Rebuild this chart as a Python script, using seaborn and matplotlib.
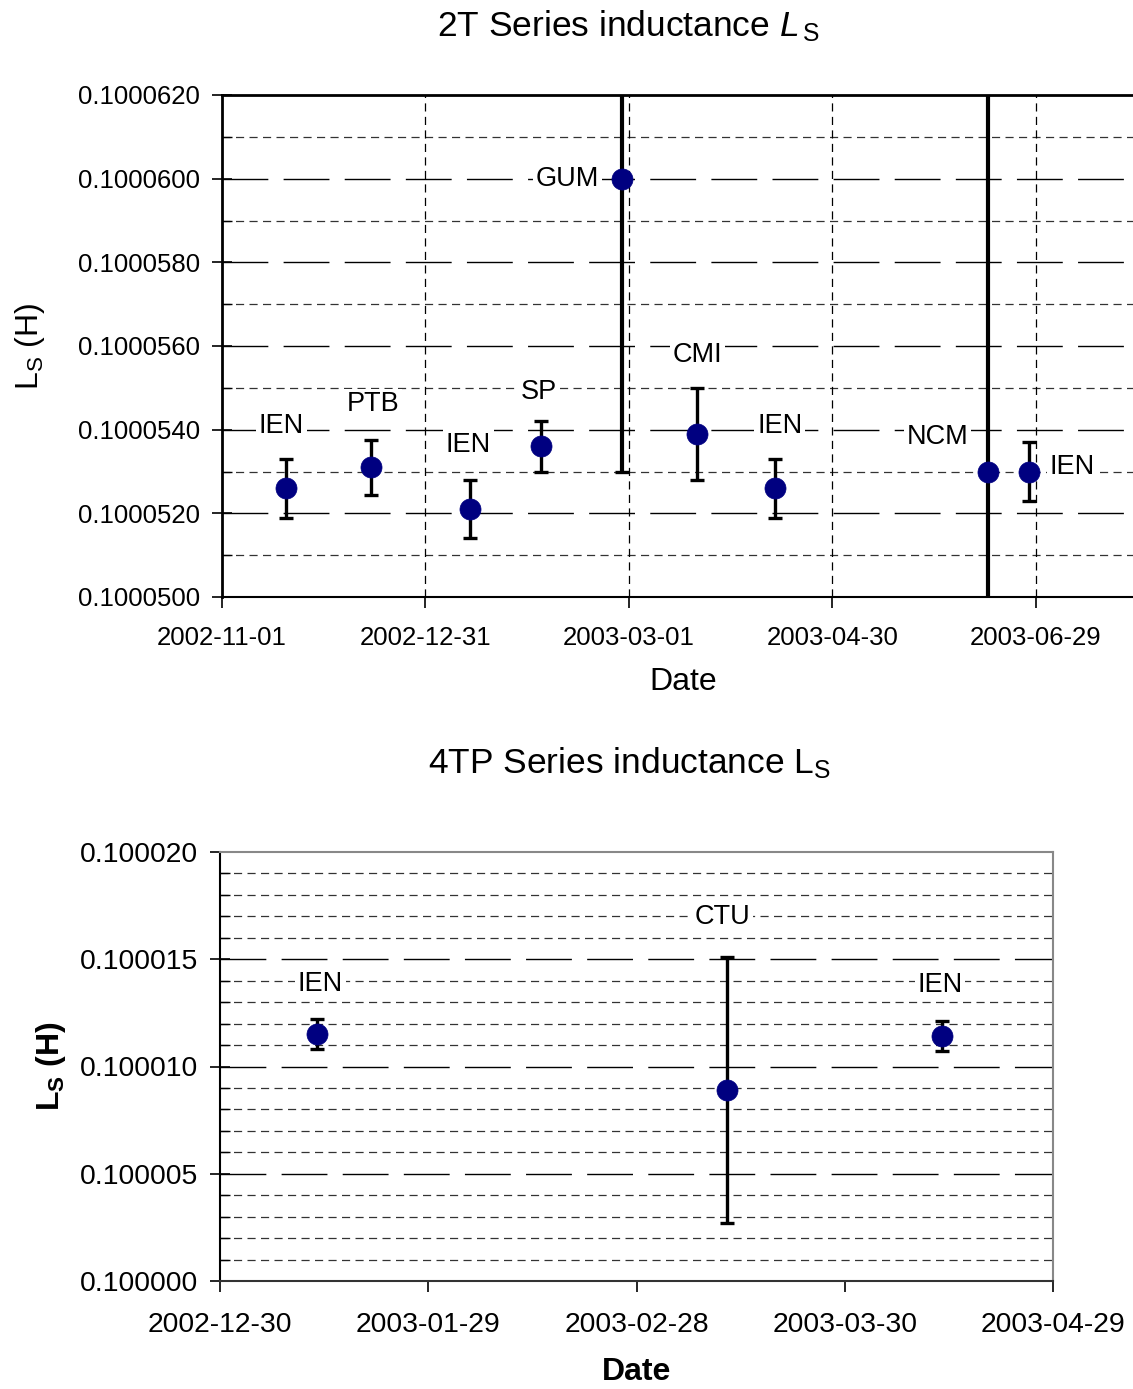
import matplotlib
matplotlib.use("Agg")
import matplotlib.pyplot as plt
import matplotlib.dates as mdates
from matplotlib.ticker import MultipleLocator, FixedLocator
import seaborn as sns
import pandas as pd
import numpy as np

# ---------------- data ----------------
top_labels = ["IEN", "PTB", "IEN", "SP", "GUM", "CMI", "IEN", "NCM", "IEN"]
top_dates = ["2002-11-20", "2002-12-15", "2003-01-13", "2003-02-03", "2003-02-27",
             "2003-03-21", "2003-04-13", "2003-06-15", "2003-06-27"]
top_values = [0.1000526, 0.1000531, 0.1000521, 0.1000536, 0.1000600,
              0.1000539, 0.1000526, 0.1000530, 0.1000530]
top_errors = [0.0000007, 0.00000065, 0.0000007, 0.0000006, 0.0000070,
              0.0000011, 0.0000007, 0.0000200, 0.0000007]
top_xticks = ["2002-11-01", "2002-12-31", "2003-03-01", "2003-04-30", "2003-06-29"]
top_yticks = [0.1000500, 0.1000520, 0.1000540, 0.1000560, 0.1000580, 0.1000600, 0.1000620]

bot_labels = ["IEN", "CTU", "IEN"]
bot_dates = ["2003-01-13", "2003-03-13", "2003-04-13"]
bot_values = [0.1000115, 0.1000089, 0.1000114]
bot_errors = [0.0000007, 0.0000062, 0.0000007]
bot_xticks = ["2002-12-30", "2003-01-29", "2003-02-28", "2003-03-30", "2003-04-29"]
bot_yticks = [0.100000, 0.100005, 0.100010, 0.100015, 0.100020]

# label placement (pixel offsets from the point) -- style only
top_offsets = [(-5, 62), (2, 63), (-1, 64), (-2, 54), (-55, 0), (1, 79), (5, 62), (-51, 35), (43, 4)]
bot_offsets = [(3, 50), (-4, 173), (-2, 51)]

# ---------------- style ----------------
sns.set_style("white")
plt.rcParams["font.family"] = ["Liberation Sans", "DejaVu Sans"]
plt.rcParams["mathtext.fontset"] = "custom"
plt.rcParams["mathtext.rm"] = "Liberation Sans"
plt.rcParams["mathtext.it"] = "Liberation Sans:italic"
plt.rcParams["mathtext.bf"] = "Liberation Sans:bold"
plt.rcParams["text.color"] = "black"
plt.rcParams["axes.labelcolor"] = "black"
plt.rcParams["xtick.color"] = "black"
plt.rcParams["ytick.color"] = "black"

FS = 18.5
NAVY = "#000080"

fig = plt.figure(figsize=(11.33, 13.89), dpi=100)
ax1 = fig.add_axes([222 / 1133, 1 - 597 / 1389, 1 - 222 / 1133 + 0.01, (597 - 95) / 1389])
ax2 = fig.add_axes([220 / 1133, 1 - 1281 / 1389, (1053 - 220) / 1133, (1281 - 852) / 1389])

top_df = pd.DataFrame({"date": pd.to_datetime(top_dates), "value": top_values,
                       "err": top_errors, "label": top_labels})
bot_df = pd.DataFrame({"date": pd.to_datetime(bot_dates), "value": bot_values,
                       "err": bot_errors, "label": bot_labels})


def style_axes(ax, yticks, minor_step, xticks, vgrid, spine_colors, fs, xpad, ypad):
    ax.set_ylim(yticks[0], yticks[-1])
    ax.yaxis.set_major_locator(FixedLocator(yticks))
    ax.yaxis.set_minor_locator(MultipleLocator(minor_step))
    ax.set_xticks(mdates.date2num(pd.to_datetime(xticks)))
    ax.set_xticklabels(xticks)
    ax.grid(False)
    for y in yticks[1:-1]:
        ax.axhline(y, color="black", lw=1.0, dashes=(33, 11), zorder=0.5)
    ymin = yticks[0]
    nminor = int(round((yticks[-1] - yticks[0]) / minor_step))
    for k in range(1, nminor):
        y = ymin + k * minor_step
        if any(abs(y - t) < minor_step / 10 for t in yticks):
            continue
        ax.axhline(y, color="#333333", lw=0.9, dashes=(6.5, 4.3), zorder=0.5)
    if vgrid:
        for x in mdates.date2num(pd.to_datetime(xticks))[1:]:
            ax.axvline(x, color="black", lw=0.9, dashes=(6.5, 4.3), zorder=0.5)
    ax.tick_params(axis="y", which="major", direction="inout", length=14, width=1.2,
                   labelsize=fs, pad=ypad, left=True)
    ax.tick_params(axis="y", which="minor", direction="in", length=7, width=1.0, left=True)
    ax.tick_params(axis="x", which="major", direction="out", length=8, width=1.2,
                   labelsize=fs, pad=xpad, bottom=True)
    for side, (c, w) in spine_colors.items():
        ax.spines[side].set_color(c)
        ax.spines[side].set_linewidth(w)


def plot_points(ax, df, offsets, bigerr_lw):
    for i, row in df.iterrows():
        lw = bigerr_lw if row["err"] > 3e-6 else 2.4
        ax.errorbar(row["date"], row["value"], yerr=row["err"], fmt="none",
                    ecolor="black", elinewidth=lw, capsize=5, capthick=2.4, zorder=3)
    sns.scatterplot(data=df, x="date", y="value", ax=ax, color=NAVY, s=230,
                    edgecolor=NAVY, linewidth=0.5, zorder=4, legend=False)
    for (i, row), (dx, dy) in zip(df.iterrows(), offsets):
        ax.annotate(row["label"], (row["date"], row["value"]), xytext=(dx, dy),
                    textcoords="offset pixels", ha="center", va="center", fontsize=FS + 1,
                    bbox=dict(facecolor="white", edgecolor="none", pad=2), zorder=2)


# ---------- top chart ----------
plot_points(ax1, top_df, top_offsets, 3.0)
style_axes(ax1, top_yticks, 0.000001, top_xticks, True,
           {"left": ("black", 2.0), "top": ("black", 2.0), "bottom": ("black", 1.5),
            "right": ("white", 0.0)}, FS, 13, 9)
ax1.set_xlim(mdates.date2num(pd.Timestamp("2002-11-01")),
             mdates.date2num(pd.Timestamp("2003-07-31")))
ax1.yaxis.set_major_formatter(matplotlib.ticker.FuncFormatter(lambda v, p: f"{v:.7f}"))
ax1.set_title(r"2T Series inductance $\mathit{L}_{\,\mathrm{S}}$", fontsize=25.5, pad=42,
              x=(628 - 222) / 922)
ax1.set_xlabel("Date", fontsize=23, labelpad=12)
ax1.set_ylabel(r"L$_\mathrm{S}$ (H)", fontsize=23, labelpad=22)

# ---------- bottom chart ----------
plot_points(ax2, bot_df, bot_offsets, 2.4)
style_axes(ax2, bot_yticks, 0.000001, bot_xticks, False,
           {"left": ("black", 1.5), "top": ("#888888", 1.5), "bottom": ("#333333", 1.5),
            "right": ("#888888", 1.5)}, 20.4, 14, 9)
ax2.set_xlim(mdates.date2num(pd.Timestamp("2002-12-30")),
             mdates.date2num(pd.Timestamp("2003-04-29")))
ax2.yaxis.set_major_formatter(matplotlib.ticker.FuncFormatter(lambda v, p: f"{v:.6f}"))
ax2.set_title(r"4TP Series inductance L$_\mathrm{S}$", fontsize=25.5, pad=57,
              x=(630 - 220) / 833)
ax2.set_xlabel("Date", fontsize=23, fontweight="bold", labelpad=14)
ax2.set_ylabel(r"L$_\mathbf{S}$ (H)", fontsize=23, fontweight="bold", labelpad=8)

fig.savefig("out.png", dpi=100)
